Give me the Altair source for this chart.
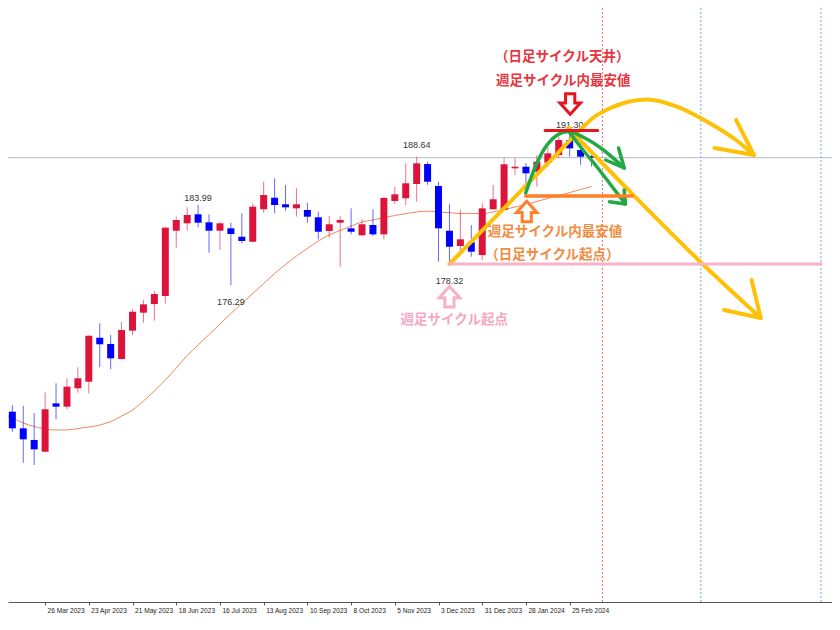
import altair as alt
import pandas as pd
from datetime import datetime, timedelta

# ---------------- data (GBP/JPY weekly) ----------------
week_dates = [
    "2023-02-26", "2023-03-05", "2023-03-12", "2023-03-19", "2023-03-26",
    "2023-04-02", "2023-04-09", "2023-04-16", "2023-04-23", "2023-04-30",
    "2023-05-07", "2023-05-14", "2023-05-21", "2023-05-28",
    "2023-06-04", "2023-06-11", "2023-06-18", "2023-06-25",
    "2023-07-02", "2023-07-09", "2023-07-16", "2023-07-23", "2023-07-30",
    "2023-08-06", "2023-08-13", "2023-08-20", "2023-08-27",
    "2023-09-03", "2023-09-10", "2023-09-17", "2023-09-24",
    "2023-10-01", "2023-10-08", "2023-10-15", "2023-10-22", "2023-10-29",
    "2023-11-05", "2023-11-12", "2023-11-19", "2023-11-26",
    "2023-12-03", "2023-12-10", "2023-12-17", "2023-12-24", "2023-12-31",
    "2024-01-07", "2024-01-14", "2024-01-21", "2024-01-28",
    "2024-02-04", "2024-02-11", "2024-02-18", "2024-02-25",
    "2024-03-03", "2024-03-10",
]
opens = [162.55, 164.12, 162.52, 161.40, 160.27, 164.92, 164.60, 166.37, 167.00, 171.23,
         170.63, 169.18, 171.91, 173.64, 174.47, 175.24, 181.52, 182.23, 183.10, 182.33,
         181.52, 181.75, 180.94, 180.46, 183.58, 184.69, 184.06, 183.67, 183.51, 182.81,
         181.49, 182.29, 181.75, 181.08, 182.07, 181.17, 184.38, 184.64, 186.01, 187.93,
         185.82, 181.52, 180.05, 180.41, 179.18, 183.58, 183.51, 187.52, 187.67, 187.19,
         188.06, 188.80, 190.24, 189.28, 188.70]
highs = [164.86, 164.76, 164.67, 163.99, 165.98, 166.85, 167.33, 168.39, 171.45, 172.62,
         171.49, 172.77, 173.96, 174.86, 175.72, 181.91, 182.87, 183.77, 183.99, 183.10,
         182.39, 182.29, 183.19, 184.16, 186.23, 186.56, 185.92, 185.60, 184.21, 183.35,
         182.93, 182.93, 183.67, 182.62, 183.58, 184.79, 185.75, 188.00, 188.64, 188.16,
         186.23, 184.06, 183.51, 182.07, 184.16, 185.92, 188.48, 188.48, 188.00, 188.80,
         189.60, 190.56, 191.30, 190.56, 188.80]
lows = [162.17, 162.19, 159.21, 158.99, 160.20, 163.39, 164.35, 165.94, 165.89, 168.39,
        168.19, 169.15, 171.49, 172.67, 172.87, 174.54, 179.89, 181.52, 181.85, 179.41,
        179.67, 176.29, 180.31, 180.40, 183.25, 183.19, 183.44, 182.87, 182.29, 180.69,
        180.85, 178.06, 181.17, 181.01, 181.01, 180.69, 184.09, 183.99, 184.31, 185.92,
        178.54, 178.32, 179.35, 179.02, 178.70, 183.55, 183.48, 186.88, 185.92, 185.75,
        187.67, 188.48, 188.64, 187.84, 187.67]
closes = [164.09, 162.52, 161.46, 160.50, 164.35, 164.60, 166.52, 167.33, 171.42, 170.60,
          169.25, 171.97, 173.73, 174.44, 175.43, 181.81, 182.55, 183.03, 182.29, 181.52,
          182.23, 181.20, 180.53, 183.83, 184.95, 183.99, 183.77, 184.06, 182.87, 181.42,
          182.14, 182.55, 181.42, 182.14, 181.17, 184.67, 185.02, 186.08, 188.00, 186.23,
          181.75, 179.98, 180.69, 179.50, 183.67, 184.54, 187.91, 187.67, 187.04, 188.16,
          188.96, 190.24, 189.44, 188.64, 188.54]
ma_values = [163.99, 163.51, 163.03, 162.69, 162.45, 162.36, 162.36, 162.50, 162.65, 162.84,
             163.17, 163.70, 164.28, 165.15, 166.11, 167.17, 168.32, 169.52, 170.53, 171.54,
             172.55, 173.56, 174.52, 175.48, 176.44, 177.41, 178.27, 179.09, 179.81, 180.53,
             181.11, 181.54, 181.97, 182.36, 182.55, 182.79, 182.98, 183.16, 183.32, 183.40,
             183.32, 183.25, 183.17, 183.17, 183.17, 183.32, 183.56, 183.80, 184.04, 184.33,
             184.62, 184.91, 185.19, 185.48, 185.77]

current_price = [188.54]

tick_dates = ["2023-03-26", "2023-04-23", "2023-05-21", "2023-06-18", "2023-07-16",
              "2023-08-13", "2023-09-10", "2023-10-08", "2023-11-05", "2023-12-03",
              "2023-12-31", "2024-01-28", "2024-02-25"]

peak_labels = ["183.99", "176.29", "188.64", "178.32", "191.30"]
peak_dates = ["2023-07-02T00:00", "2023-07-23T00:00", "2023-11-19T00:00", "2023-12-10T00:00", "2024-02-25T00:00"]
peak_prices = [184.64, 174.67, 189.76, 176.71, 191.71]

vline_dates = ["2024-03-17T00:00", "2024-05-19T00:00", "2024-08-04T00:00"]
vline_colors = ["#F26A6A", "#6FA8F2", "#6FA8F2"]

# annotation strokes (date, price) per path
paths = [
    # yellow rise + arc
    ("#FFC107", 4, "monotone",
     ["2023-12-10T00:00", "2024-01-10T18:00", "2024-02-17T17:00", "2024-03-01T09:00",
      "2024-03-10T21:00", "2024-03-22T06:00", "2024-04-02T00:00", "2024-04-14T16:00",
      "2024-05-03T16:00", "2024-05-24T13:00", "2024-06-10T14:00", "2024-06-22T00:00"],
     [178.32, 183.19, 189.03, 191.01, 192.36, 193.32, 193.90, 194.14, 193.46, 191.88, 190.24, 188.80]),
    ("#FFC107", 4, "linear",
     ["2024-06-10T14:00", "2024-06-22T00:00", "2024-05-27T17:00"],
     [192.17, 188.80, 189.47]),
    # yellow fall
    ("#FFC107", 4, "monotone",
     ["2024-02-24T01:00", "2024-04-02T00:00", "2024-05-19T11:00", "2024-06-26T10:00"],
     [191.40, 185.53, 178.42, 173.13]),
    ("#FFC107", 4, "linear",
     ["2024-06-20T13:00", "2024-06-26T10:00", "2024-06-02T20:00"],
     [176.78, 173.13, 173.90]),
    # green arc
    ("#22A845", 3.5, "monotone",
     ["2024-01-27T20:00", "2024-02-03T04:00", "2024-02-11T10:00", "2024-02-24T01:00",
      "2024-03-05T19:00", "2024-03-15T22:00", "2024-03-30T22:00"],
     [185.15, 187.74, 189.95, 191.06, 190.43, 189.47, 187.55]),
    ("#22A845", 3.5, "linear",
     ["2024-03-27T08:00", "2024-03-30T22:00", "2024-03-19T02:00"],
     [189.47, 187.55, 188.32]),
    # green drop
    ("#22A845", 3.5, "monotone",
     ["2024-02-24T16:00", "2024-03-04T13:00", "2024-03-14T01:00", "2024-03-22T21:00", "2024-03-31T18:00"],
     [191.01, 189.28, 187.55, 185.82, 184.09]),
    ("#22A845", 3.5, "linear",
     ["2024-03-30T22:00", "2024-03-31T18:00", "2024-03-21T11:00"],
     [185.43, 184.09, 184.31]),
    # orange weekly-cycle low line
    ("#FF7F27", 3.5, "linear", ["2024-01-27T20:00", "2024-04-05T04:00"], [184.86, 184.86]),
    # red top line
    ("#E8141E", 3, "linear", ["2024-02-09T07:00", "2024-03-14T00:00"], [191.15, 191.15]),
    # pink start line
    ("#F8B3C9", 3, "linear", ["2023-12-10T00:00", "2024-08-04T00:00"], [178.32, 178.32]),
]

notes = ["（日足サイクル天井）", "週足サイクル内最安値", "週足サイクル内最安値", "（日足サイクル起点）", "週足サイクル起点"]
note_dates = ["2024-02-20T06:00", "2024-02-20T21:00", "2024-02-15T15:00", "2024-02-13T22:00", "2023-12-13T02:00"]
note_prices = [198.22, 195.92, 181.42, 179.18, 172.93]
note_colors = ["#E8343E", "#E8343E", "#F38B3F", "#F38B3F", "#F7A6C3"]

arrow_dirs = ["down", "up", "up"]
arrow_dates = ["2024-02-25T08:00", "2024-01-28T12:00", "2023-12-10T00:00"]
arrow_prices = [193.70, 183.37, 175.17]
arrow_colors = ["#E5141E", "#FF7F27", "#F9B0C8"]

UP_ARROW = "M0,-1 L1,0.1 L0.45,0.1 L0.45,1 L-0.45,1 L-0.45,0.1 L-1,0.1 Z"
DOWN_ARROW = "M0,1 L1,-0.1 L0.45,-0.1 L0.45,-1 L-0.45,-1 L-0.45,-0.1 L-1,-0.1 Z"

# ---------------- scales (calibrated to the layout) ----------------
W, H = 824, 594
base = datetime(2023, 3, 26)
ppd = 11.0625 / 7.0
x0_ref, y_ref, p_ref, ppy = 40.5, 129.0, 191.30, 10.4
left = base + timedelta(days=(8 - x0_ref) / ppd)
right = base + timedelta(days=(8 + W - x0_ref) / ppd)


def dt(d):
    return alt.DateTime(year=d.year, month=d.month, date=d.day,
                        hours=d.hour, minutes=d.minute, seconds=d.second)


xscale = alt.Scale(domain=[dt(left), dt(right)])
yscale = alt.Scale(domain=[p_ref - (8 + H - y_ref) / ppy, p_ref + (y_ref - 8) / ppy],
                   nice=False, zero=False)

tick_vals = []
for s in tick_dates:
    d = datetime.strptime(s, "%Y-%m-%d")
    tick_vals.append(alt.DateTime(year=d.year, month=d.month, date=d.day))

xaxis = alt.Axis(values=tick_vals, format="%-d %b %Y", title=None, grid=False,
                 labelAlign="left", labelOffset=2, labelPadding=2,
                 labelFont="Liberation Sans", labelFontSize=6.6, labelColor="#222222",
                 tickSize=3, tickColor="#555555", domainColor="#555555",
                 labelOverlap=False, labelFlush=False)


def X(field="date:T"):
    return alt.X(field, scale=xscale, axis=xaxis)


def Y(field):
    return alt.Y(field, scale=yscale, axis=None)


# ---------------- layers ----------------
df = pd.DataFrame({
    "date": [d + "T00:00:00" for d in week_dates],
    "open": opens, "high": highs, "low": lows, "close": closes, "ma": ma_values,
})
df["dir"] = ["up" if c >= o else "down" for o, c in zip(opens, closes)]
cscale = alt.Scale(domain=["up", "down"], range=["#DC143C", "#0000FF"])

vlines = alt.Chart(pd.DataFrame({"date": vline_dates, "c": vline_colors})).mark_rule(
    strokeDash=[2, 2], strokeWidth=1).encode(x=X(), color=alt.Color("c:N", scale=None))

pline = alt.Chart(pd.DataFrame({"price": current_price})).mark_rule(
    color="#AFB8C3", strokeWidth=1).encode(y=Y("price:Q"))

wicks = alt.Chart(df).mark_rule(strokeWidth=1, opacity=0.6, clip=True).encode(
    x=X(), y=Y("high:Q"), y2="low:Q",
    color=alt.Color("dir:N", scale=cscale, legend=None))

bodies = alt.Chart(df).mark_bar(size=7, clip=True, orient="vertical").encode(
    x=X(), y=Y("open:Q"), y2="close:Q",
    color=alt.Color("dir:N", scale=cscale, legend=None))

ma = alt.Chart(df).mark_line(color="#F4845F", strokeWidth=1, clip=True,
                             interpolate="monotone").encode(x=X(), y=Y("ma:Q"))

peaks = alt.Chart(pd.DataFrame({"date": peak_dates, "price": peak_prices, "t": peak_labels})).mark_text(
    font="Liberation Sans", fontSize=9, color="#333333", baseline="middle", align="center"
).encode(x=X(), y=Y("price:Q"), text="t:N")

layers = [vlines, pline, ma, wicks, bodies, peaks]

for k, (col, w, interp, ds, ps) in enumerate(paths):
    pdf = pd.DataFrame({"date": ds, "price": ps, "k": list(range(len(ds)))})
    layers.append(
        alt.Chart(pdf).mark_line(color=col, strokeWidth=w, interpolate=interp,
                                 strokeCap="round", strokeJoin="round", clip=True)
        .encode(x=X(), y=Y("price:Q"), order="k:Q"))

notes_df = pd.DataFrame({"date": note_dates, "price": note_prices, "t": notes, "c": note_colors})
layers.append(alt.Chart(notes_df).mark_text(
    font="Noto Sans CJK JP", fontSize=13.5, fontWeight="bold", baseline="middle", align="center"
).encode(x=X(), y=Y("price:Q"), text="t:N", color=alt.Color("c:N", scale=None)))

arrows_df = pd.DataFrame({"date": arrow_dates, "price": arrow_prices,
                          "d": arrow_dirs, "c": arrow_colors})
layers.append(alt.Chart(arrows_df).mark_point(
    filled=True, fill="white", strokeWidth=3, size=420, opacity=1, strokeJoin="miter"
).encode(x=X(), y=Y("price:Q"),
         shape=alt.Shape("d:N", scale=alt.Scale(domain=["up", "down"], range=[UP_ARROW, DOWN_ARROW]),
                         legend=None),
         stroke=alt.Stroke("c:N", scale=None)))

chart = alt.layer(*layers).properties(
    width=W, height=H,
    padding={"left": 0, "top": 0, "right": 0, "bottom": 14},
    autosize=alt.AutoSizeParams(type="none"),
    background="white",
).configure_view(strokeWidth=0)

chart.save("out.html", embed_options={"renderer": "svg", "actions": False})
